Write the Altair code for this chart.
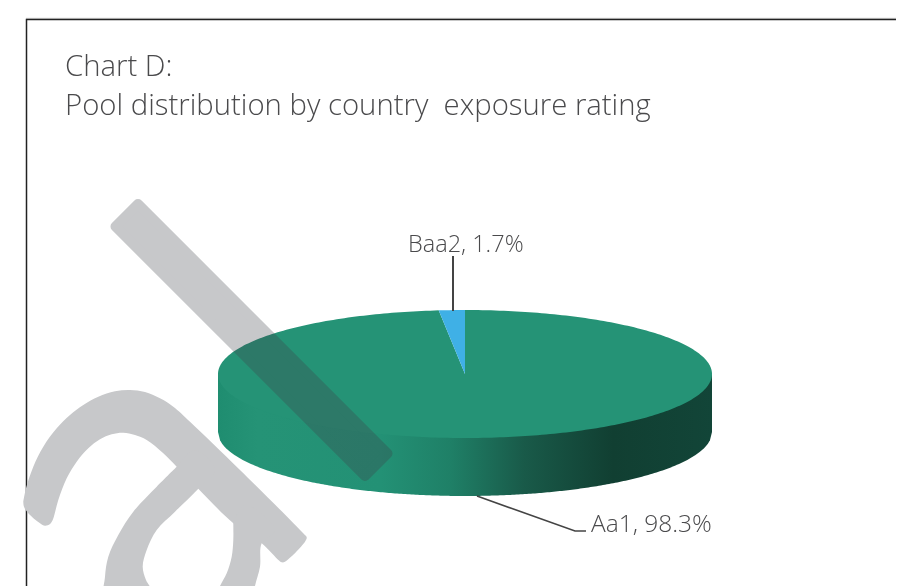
import numpy as np
import pandas as pd
import altair as alt

categories = ["Aa1", "Baa2"]
shares = [98.3, 1.7]
labels = ["Aa1, 98.3%", "Baa2, 1.7%"]
title_lines = ["Chart D:", "Pool distribution by country\u00a0 exposure rating"]

GREEN = "#259376"
BLUE = "#3fb0e6"
GREY = "#c7c8ca"
INK = "#4a4a4c"
FONT = "Open Sans"

W, H = 888, 578
X = alt.Scale(domain=[8, 896], nice=False, zero=False)
Y = alt.Scale(domain=[586, 8], nice=False, zero=False)
cx, cy, rx, ry, depth = 465.0, 374.0, 247.0, 64.0, 58.0


def df_path(pts):
    return pd.DataFrame({"x": [p[0] for p in pts], "y": [p[1] for p in pts], "i": range(len(pts))})


def enc(ch):
    return ch.encode(
        x=alt.X("x:Q", scale=X, axis=None),
        y=alt.Y("y:Q", scale=Y, axis=None),
        order="i:Q",
    )


def ell(deg):
    t = np.radians(deg)
    return cx + rx * np.sin(t), cy - ry * np.cos(t)


def slice_pts(a0, a1):
    n = max(4, int(abs(a1 - a0)))
    return [(cx, cy)] + [ell(a) for a in np.linspace(a0, a1, n)] + [(cx, cy)]


def poly(pts, fill, sw=0.01, **kw):
    return enc(
        alt.Chart(df_path(pts)).mark_line(
            fill=fill, stroke=fill, strokeWidth=sw, strokeJoin="round", **kw
        )
    )


baa2_deg = shares[1] / sum(shares) * 360

# Watermark outline, behind the pie
wm_a = [(23.3, 501.7), (26, 488.3), (33.3, 466.7), (43.3, 446.7), (56.7, 428.3), (70, 415), (83.3, 405),
        (98.3, 396.7), (115, 391.3), (130, 390), (145, 392), (160, 398.3), (173.3, 406.7), (190, 421.7),
        (240, 470), (303, 533), (306.7, 537.3), (305, 541.7), (285, 561.7), (281.7, 562.3), (279, 560.5),
        (261.7, 543.3), (233.3, 523.3), (198.3, 488.7), (176.7, 466.7), (163.3, 453.3), (146.7, 440),
        (135, 435), (123.3, 432.7), (111.7, 434.3), (100, 439.3), (88.3, 448.3), (76.7, 461.7), (66.7, 478.3),
        (58.3, 500), (52.7, 520), (50, 524), (45, 525.7), (40, 523.3), (28.3, 513.3), (24, 506.7), (23.3, 501.7)]
wm_b = [(176.7, 466.7), (156.7, 486.7), (133.3, 511.7), (118.3, 535), (108.3, 556.7), (105, 576.7), (105, 605),
        (158, 605), (150, 586.7), (146, 580), (142.7, 566.7), (146.7, 550), (156.7, 530), (175, 511.7),
        (198.3, 488.7), (215, 470), (195, 450), (176.7, 466.7)]
wm_c = [(233.3, 523.3), (233.3, 540), (231.7, 556.7), (226.7, 573.3), (220, 586), (212, 605), (252, 605),
        (255, 586), (260, 566.7), (261.7, 543.3), (275, 530), (245, 505), (233.3, 523.3)]
wm1 = poly(wm_a, GREY, interpolate="catmull-rom")
wm2 = poly(wm_b, GREY, interpolate="catmull-rom")
wm3 = poly(wm_c, GREY, interpolate="catmull-rom")

# Pie side
xs = np.linspace(cx - rx, cx + rx, 241)
front = cy + ry * np.sqrt(np.clip(1 - ((xs - cx) / rx) ** 2, 0, 1))
side_df = pd.DataFrame({"x": xs, "y": np.full_like(xs, cy), "y2": front + depth})
side_fill = alt.LinearGradient(
    gradient="linear", x1=0, x2=1, y1=0, y2=0,
    stops=[
        alt.GradientStop(color="#1f8d70", offset=0.0),
        alt.GradientStop(color="#259376", offset=0.08),
        alt.GradientStop(color="#239175", offset=0.33),
        alt.GradientStop(color="#1f8067", offset=0.47),
        alt.GradientStop(color="#195a49", offset=0.62),
        alt.GradientStop(color="#113f32", offset=0.8),
        alt.GradientStop(color="#124538", offset=1.0),
    ],
)
side = alt.Chart(side_df).mark_area(color=side_fill).encode(
    x=alt.X("x:Q", scale=X, axis=None),
    y=alt.Y("y:Q", scale=Y, axis=None),
    y2="y2:Q",
)

# Pie top, slice sizes come from the shares
top_main = poly(slice_pts(0, 360 - baa2_deg), GREEN)
top_baa2 = poly(slice_pts(360 - baa2_deg, 360), BLUE)

# Watermark bar, in front of the pie
bar_pts = [(250, 316), (138, 204), (115.5, 226.5), (365, 476), (387.5, 453.5), (250, 316)]
bar_mul = poly(bar_pts, "#c3c5c6", sw=10, blend="multiply")
bar_scr = poly(bar_pts, "#120d12", sw=10, blend="screen")

# Frame
frame_df = df_path([(26.5, 586), (26.5, 19.5), (896, 19.5)])
frame = enc(alt.Chart(frame_df).mark_line(color="#222222", strokeWidth=1.5))
frame_top = enc(alt.Chart(df_path([(26, 18.3), (896, 18.3)])).mark_line(color="#cccccc", strokeWidth=1))

# Leader lines
lead1 = enc(alt.Chart(df_path([(453, 256), (453, 311)])).mark_line(color="#444444", strokeWidth=2))
lead2 = enc(alt.Chart(df_path([(477, 496), (575, 531), (586, 531)])).mark_line(color="#444444", strokeWidth=1.6))

# Text
text_df = pd.DataFrame({
    "x": [65, 65, 408, 591],
    "y": [76, 115, 252, 532],
    "t": [title_lines[0], title_lines[1], labels[1], labels[0]],
    "s": [29.3, 29.3, 23.5, 24.5],
})
texts = alt.Chart(text_df).mark_text(
    align="left", baseline="alphabetic", font=FONT, fontWeight=300, color=INK
).encode(
    x=alt.X("x:Q", scale=X, axis=None),
    y=alt.Y("y:Q", scale=Y, axis=None),
    text="t:N",
    size=alt.Size("s:Q", scale=None, legend=None),
)

chart = alt.layer(
    frame_top, frame, wm1, wm2, wm3, side, top_main, top_baa2, bar_mul, bar_scr, lead1, lead2, texts
).properties(
    width=W, height=H, padding=0, autosize=alt.AutoSizeParams(type="none"),
    background="white",
).configure_view(stroke=None)

chart.save("out.html", embed_options={"renderer": "svg", "actions": False})
